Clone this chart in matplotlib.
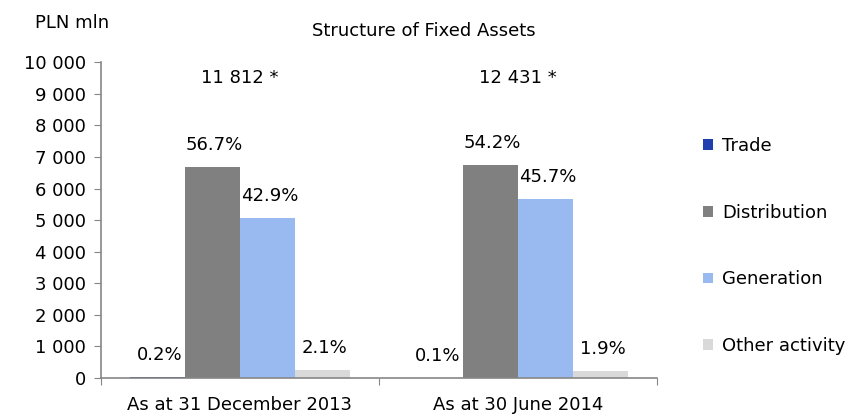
import matplotlib
matplotlib.use("Agg")
import matplotlib.pyplot as plt
from matplotlib.patches import Patch
import numpy as np

plt.rcParams['font.family'] = ['DejaVu Sans']

categories = ["As at 31 December 2013", "As at 30 June 2014"]
totals = ["11 812 *", "12 431 *"]
series_names = ["Trade", "Distribution", "Generation", "Other activity"]
trade = [24, 12]
distribution = [6697, 6738]
generation = [5067, 5681]
other = [248, 236]
trade_pct = ["0.2%", "0.1%"]
distribution_pct = ["56.7%", "54.2%"]
generation_pct = ["42.9%", "45.7%"]
other_pct = ["2.1%", "1.9%"]
yticks = list(range(0, 10001, 1000))
ytick_labels = ["0", "1 000", "2 000", "3 000", "4 000", "5 000", "6 000",
                "7 000", "8 000", "9 000", "10 000"]

colors = ["#1F3FAF", "#808080", "#99BAF0", "#D9D9D9"]
series = [trade, distribution, generation, other]
pcts = [trade_pct, distribution_pct, generation_pct, other_pct]

fig = plt.figure(figsize=(8.48, 4.17), dpi=100)
ax = fig.add_axes([0.119, 0.0935, 0.656, 0.757])

x = np.arange(len(categories))
w = 0.198
offsets = [-1.5, -0.5, 0.5, 1.5]
fs = 13
for s, col, off, pl in zip(series, colors, offsets, pcts):
    bars = ax.bar(x + off * w, s, width=w, color=col)
    for b, lab in zip(bars, pl):
        ax.annotate(lab, (b.get_x() + b.get_width() / 2, b.get_height()),
                    xytext=(2, 22), textcoords='offset pixels',
                    ha='center', va='center', fontsize=fs)

for xi, t in zip(x, totals):
    ax.text(xi, 9500, t, ha='center', va='center', fontsize=fs)

ax.set_xlim(-0.5, 1.5)
ax.set_ylim(0, 10000)
ax.set_yticks(yticks)
ax.set_yticklabels(ytick_labels, fontsize=fs)
ax.set_xticks([-0.5, 0.5, 1.5])
ax.set_xticklabels([])
ax.set_xticks(x, minor=True)
ax.set_xticklabels(categories, minor=True, fontsize=fs)
ax.tick_params(axis='x', which='minor', length=0, pad=13)
ax.tick_params(axis='x', which='major', length=5, color='#868686', direction='out')
ax.tick_params(axis='y', length=5, color='#868686', direction='out', pad=6)
for sp in ['top', 'right']:
    ax.spines[sp].set_visible(False)
for sp in ['left', 'bottom']:
    ax.spines[sp].set_color('#868686')
    ax.spines[sp].set_linewidth(1.2)

handles = [Patch(facecolor=c, edgecolor='none') for c in colors]
fig.legend(handles, series_names, loc='center left', bbox_to_anchor=(0.81, 0.41),
           frameon=False, fontsize=fs, handlelength=0.55, handleheight=0.55,
           handletextpad=0.5, labelspacing=2.7)

fig.text(0.5, 0.925, "Structure of Fixed Assets", ha='center', va='center', fontsize=fs)
fig.text(0.041, 0.945, "PLN mln", ha='left', va='center', fontsize=fs)

fig.savefig("out.png", dpi=100)
